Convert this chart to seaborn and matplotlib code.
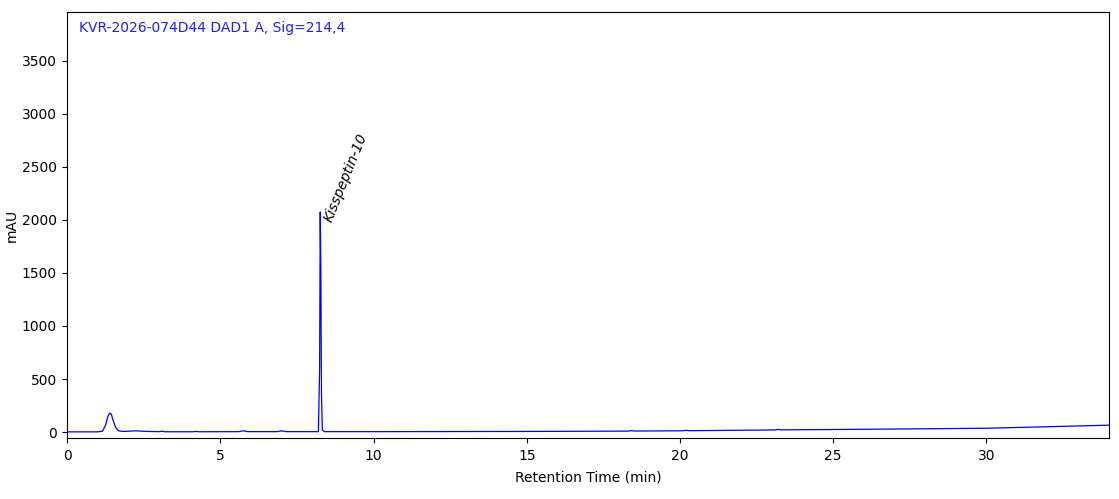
import numpy as np
import pandas as pd
import seaborn as sns
import matplotlib
matplotlib.use("Agg")
import matplotlib.pyplot as plt

# trace (min, mAU)
rt = [0.0, 1.0, 1.15, 1.25, 1.32, 1.38, 1.44, 1.5, 1.58, 1.66, 1.75, 1.9,
      2.1, 2.2, 2.35, 2.6, 3.0, 3.1, 3.2, 4.1, 4.2, 4.3, 5.6, 5.75, 5.9,
      6.85, 7.0, 7.15, 8.2, 8.24, 8.26, 8.28, 8.3, 8.33, 8.4, 10.0,
      15.0, 18.3, 18.4, 18.5, 20.1, 20.2, 20.3, 23.1, 23.2, 23.3, 25.0,
      30.0, 34.0]
mau = [2, 2, 8, 60, 140, 178, 170, 110, 45, 15, 8, 6,
       10, 12, 10, 6, 4, 8, 3, 3, 6, 3, 4, 12, 4,
       4, 12, 4, 4, 600, 2075, 1500, 350, 20, 4, 4,
       6, 9, 14, 10, 12, 17, 13, 20, 26, 21, 24,
       36, 65]

peak_rt = 8.26
peak_h = 2075
peak_name = "Kisspeptin-10"
title = "KVR-2026-074D44 DAD1 A, Sig=214,4"

df = pd.DataFrame({"rt": rt, "mau": mau})

sns.set_style("ticks")
plt.rcParams["font.family"] = ["DejaVu Sans"]
plt.rcParams["text.color"] = "black"
plt.rcParams["axes.labelcolor"] = "black"
plt.rcParams["xtick.color"] = "black"
plt.rcParams["ytick.color"] = "black"

fig, ax = plt.subplots(figsize=(11.19, 4.99), dpi=100)
sns.lineplot(data=df, x="rt", y="mau", color="#0000ff", linewidth=0.9, ax=ax)

ax.set_xlim(0, 34)
ax.set_ylim(-57, 3960)
ax.set_xticks([0, 5, 10, 15, 20, 25, 30])
ax.set_yticks([0, 500, 1000, 1500, 2000, 2500, 3000, 3500])
ax.tick_params(labelsize=10, pad=4)
ax.set_xlabel("Retention Time (min)", fontsize=10, labelpad=6)
ax.set_ylabel("mAU", fontsize=10)
ax.yaxis.set_label_coords(-0.046, 0.5)

ax.text(0.011, 0.979, title, transform=ax.transAxes, color="#2020ff",
        fontsize=10, va="top", ha="left")
ax.text(peak_rt + 0.06, peak_h - 60, peak_name, rotation=68, fontsize=10,
        style="italic", ha="left", va="top", rotation_mode="anchor")

for s in ax.spines.values():
    s.set_linewidth(0.8)
    s.set_color("black")

fig.subplots_adjust(left=0.06, right=0.991, top=0.976, bottom=0.122)
fig.savefig("out.png", dpi=100)
plt.close(fig)
